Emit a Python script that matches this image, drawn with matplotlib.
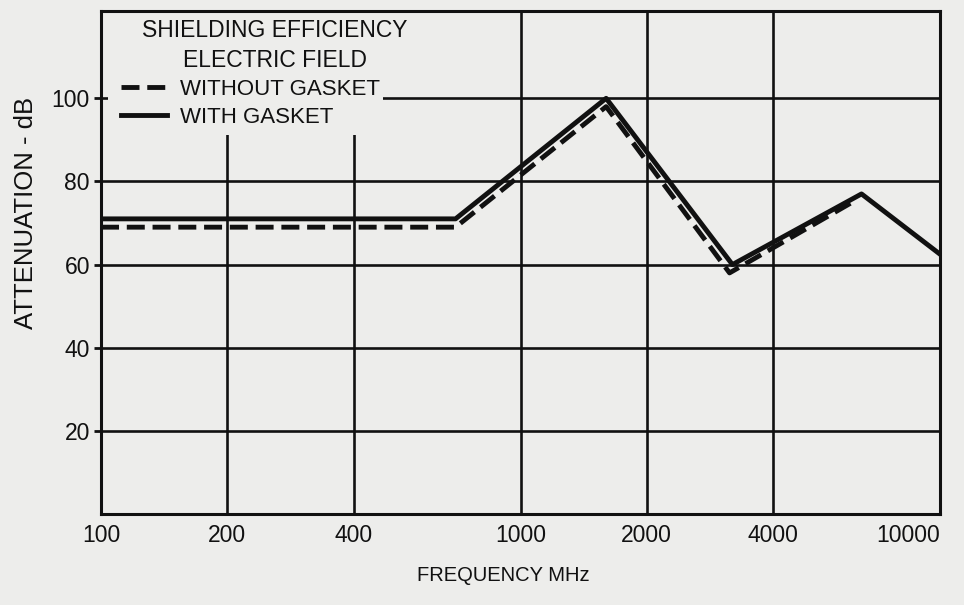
import matplotlib
matplotlib.use('Agg')
import matplotlib.pyplot as plt
from matplotlib.patches import Rectangle

plt.rcParams['font.family'] = ['Liberation Sans', 'DejaVu Sans']

# attenuation curves, electric field (MHz, dB)
freq_with = [100, 700, 1600, 3200, 6500, 10000]
att_with = [71, 71, 100, 60, 77, 62.5]
freq_without = [100, 700, 1600, 3150, 6300]
att_without = [69, 69, 98, 58, 75.5]

xticks = [100, 200, 400, 1000, 2000, 4000, 10000]
xtick_labels = ['100', '200', '400', '1000', '2000', '4000', '10000']
yticks = [20, 40, 60, 80, 100]

paper = '#ededeb'
ink = '#111111'

fig = plt.figure(figsize=(9.64, 6.05), dpi=100, facecolor=paper)
ax = fig.add_axes([0.1048, 0.1504, 0.8703, 0.8314], facecolor=paper)

ax.set_xscale('log')
ax.set_xlim(100, 10000)
ax.set_ylim(0, 121)
ax.set_xticks(xticks)
ax.set_xticklabels(xtick_labels)
ax.minorticks_off()
ax.set_yticks(yticks)
ax.tick_params(axis='x', length=0, pad=7, labelsize=16.5, colors=ink)
ax.tick_params(axis='y', length=5, width=2, pad=3, labelsize=16.5, colors=ink)
# last label sits inside the right edge
ax.get_xticklabels()[-1].set_ha('right')

ax.set_axisbelow(True)
ax.grid(True, color=ink, linewidth=1.9)
for s in ax.spines.values():
    s.set_color(ink)
    s.set_linewidth(2.2)

# blank area behind the key
ax.add_patch(Rectangle((0.008, 0.753), 0.328, 0.245, transform=ax.transAxes,
                       facecolor=paper, edgecolor='none', zorder=1))

ax.plot(freq_without, att_without, color=ink, lw=3.5, ls=(0, (3.7, 1.6)),
        label='WITHOUT GASKET', zorder=3)
ax.plot(freq_with, att_with, color=ink, lw=3.5, label='WITH GASKET', zorder=3)

ax.text(0.2074, 0.962, 'SHIELDING EFFICIENCY', transform=ax.transAxes,
        ha='center', va='center', fontsize=16.5, color=ink)
ax.text(0.2074, 0.9026, 'ELECTRIC FIELD', transform=ax.transAxes,
        ha='center', va='center', fontsize=16.5, color=ink)
ax.legend(loc='upper left', bbox_to_anchor=(0.0238, 0.865), frameon=False,
          fontsize=16, handlelength=2.07, handletextpad=0.59,
          labelspacing=0.33, borderpad=0, borderaxespad=0, labelcolor=ink)

ax.set_xlabel('FREQUENCY MHz', fontsize=14.5, color=ink)
ax.xaxis.set_label_coords(0.479, -0.103)
ax.set_ylabel('ATTENUATION - dB', fontsize=18.5, color=ink)
ax.yaxis.label.set_va('center')
ax.yaxis.set_label_coords(-0.09, 0.598)

fig.savefig('out.png', dpi=100, facecolor=paper)
